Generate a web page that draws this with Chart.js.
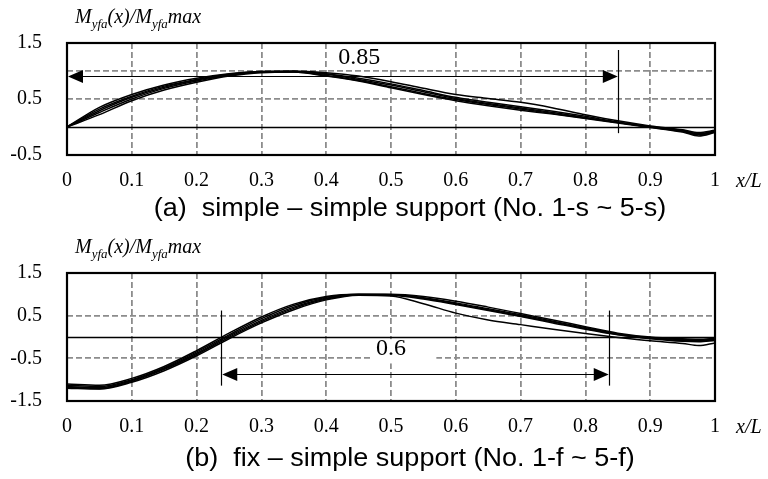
<!DOCTYPE html>
<html>
<head>
<meta charset="utf-8">
<script src="https://cdn.jsdelivr.net/npm/chart.js@4.4.0/dist/chart.umd.min.js"></script>
<style>
  html, body { margin: 0; padding: 0; background: #fff; }
  canvas { display: block; }
</style>
</head>
<body>
<canvas id="simple" width="768" height="230"></canvas>
<canvas id="fix" width="768" height="249"></canvas>
<script>
// x/L positions shared by every curve
const xPos = [0, 0.05, 0.1, 0.15, 0.2, 0.25, 0.3, 0.35, 0.4, 0.45, 0.5, 0.55, 0.6, 0.65, 0.7, 0.75, 0.8, 0.85, 0.9, 0.95, 0.975, 1];

// (a) simple - simple support, No. 1-s ~ 5-s
const simple1 = [0, 0.35, 0.58, 0.75, 0.87, 0.95, 0.99, 1.0, 0.97, 0.91, 0.81, 0.69, 0.58, 0.51, 0.44, 0.34, 0.22, 0.11, 0.02, -0.05, -0.10, -0.06];
const simple2 = [0, 0.32, 0.55, 0.73, 0.85, 0.94, 0.99, 0.99, 0.95, 0.87, 0.77, 0.65, 0.53, 0.44, 0.36, 0.28, 0.19, 0.09, 0.01, -0.06, -0.12, -0.07];
const simple3 = [0, 0.29, 0.53, 0.71, 0.84, 0.93, 0.98, 0.99, 0.94, 0.85, 0.75, 0.63, 0.51, 0.42, 0.34, 0.26, 0.17, 0.08, 0.00, -0.07, -0.13, -0.08];
const simple4 = [0, 0.26, 0.50, 0.69, 0.82, 0.92, 0.98, 0.98, 0.92, 0.83, 0.72, 0.60, 0.49, 0.40, 0.32, 0.24, 0.16, 0.08, 0.00, -0.08, -0.14, -0.09];
const simple5 = [0, 0.22, 0.47, 0.66, 0.80, 0.91, 0.97, 0.98, 0.91, 0.82, 0.70, 0.58, 0.47, 0.38, 0.30, 0.23, 0.15, 0.07, -0.01, -0.09, -0.16, -0.10];

// (b) fix - simple support, No. 1-f ~ 5-f
const fix1 = [-1.10, -1.13, -0.97, -0.69, -0.32, 0.09, 0.47, 0.77, 0.95, 1.0, 1.0, 0.95, 0.84, 0.70, 0.55, 0.40, 0.24, 0.09, 0.00, -0.04, -0.05, -0.03];
const fix2 = [-1.13, -1.16, -1.00, -0.72, -0.35, 0.05, 0.43, 0.74, 0.93, 1.0, 0.99, 0.92, 0.80, 0.66, 0.52, 0.37, 0.22, 0.07, -0.02, -0.06, -0.07, -0.05];
const fix3 = [-1.16, -1.19, -1.02, -0.74, -0.38, 0.02, 0.39, 0.70, 0.91, 0.99, 0.99, 0.91, 0.78, 0.64, 0.50, 0.35, 0.20, 0.06, -0.03, -0.08, -0.09, -0.07];
const fix4 = [-1.18, -1.21, -1.04, -0.76, -0.41, -0.01, 0.36, 0.67, 0.89, 0.99, 0.98, 0.89, 0.76, 0.62, 0.48, 0.33, 0.18, 0.05, -0.04, -0.10, -0.11, -0.08];
const fix5 = [-1.20, -1.22, -1.06, -0.79, -0.44, -0.04, 0.33, 0.64, 0.87, 0.98, 0.96, 0.78, 0.56, 0.40, 0.29, 0.18, 0.08, -0.01, -0.09, -0.15, -0.20, -0.14];

// y tick labels that are printed (grid still every 0.5)
const simpleYLabels = [1.5, 0.5, -0.5];
const fixYLabels = [1.5, 0.5, -0.5, -1.5];

// dimension marks: [x from, x to, arrow y], vertical lines [x, y top, y bottom], span label [text, x, y]
const simpleArrow = [0, 0.85, 0.91];
const simpleMarks = [[0.85, 1.375, -0.11]];
const simpleSpan = ['0.85', 0.451, 1.235];
const fixArrow = [0.238, 0.836, -0.865];
const fixMarks = [[0.238, 0.62, -1.14], [0.836, 0.62, -1.14]];
const fixSpan = ['0.6', 0.50, -0.27];

const serif = '"Liberation Serif", "Times New Roman", serif';
const sans = '"Liberation Sans", Arial, sans-serif';

function arrowHead(ctx, tx, ty, dir) {
  ctx.beginPath();
  ctx.moveTo(tx, ty);
  ctx.lineTo(tx - dir * 15, ty - 6.5);
  ctx.lineTo(tx - dir * 15, ty + 6.5);
  ctx.closePath();
  ctx.fill();
}

function richText(ctx, parts, x, y) {
  parts.forEach(p => {
    ctx.font = p.sub ? 'italic 13px ' + serif : 'italic 20px ' + serif;
    ctx.fillText(p.t, x, p.sub ? y + 5 : y);
    x += ctx.measureText(p.t).width;
  });
}

const decor = {
  id: 'decor',
  beforeDatasetsDraw(chart, args, o) {
    const {ctx, chartArea: a, scales: {x, y}} = chart;
    ctx.save();
    // white box behind the span label
    const b = o.box;
    ctx.fillStyle = '#fff';
    ctx.fillRect(x.getPixelForValue(b[0]), y.getPixelForValue(b[3]),
      x.getPixelForValue(b[1]) - x.getPixelForValue(b[0]), y.getPixelForValue(b[2]) - y.getPixelForValue(b[3]));
    // zero line
    const y0 = Math.round(y.getPixelForValue(0)) + 0.5;
    ctx.strokeStyle = '#000';
    ctx.lineWidth = 1.6;
    ctx.beginPath();
    ctx.moveTo(a.left, y0);
    ctx.lineTo(a.right, y0);
    ctx.stroke();
    ctx.restore();
  },
  afterDatasetsDraw(chart, args, o) {
    const {ctx, chartArea: a, scales: {x, y}} = chart;
    ctx.save();
    ctx.strokeStyle = '#000';
    ctx.fillStyle = '#000';
    ctx.lineWidth = 1.2;
    o.marks.forEach(m => {
      const px = Math.round(x.getPixelForValue(m[0])) + 0.5;
      ctx.beginPath();
      ctx.moveTo(px, y.getPixelForValue(m[1]));
      ctx.lineTo(px, y.getPixelForValue(m[2]));
      ctx.stroke();
    });
    const ay = Math.round(y.getPixelForValue(o.arrow[2])) + 0.5;
    const ax0 = x.getPixelForValue(o.arrow[0]);
    const ax1 = x.getPixelForValue(o.arrow[1]);
    ctx.lineWidth = 1;
    ctx.beginPath();
    ctx.moveTo(ax0 + 10, ay);
    ctx.lineTo(ax1 - 10, ay);
    ctx.stroke();
    arrowHead(ctx, ax0 + 1, ay, -1);
    arrowHead(ctx, ax1, ay, 1);

    // span label
    ctx.font = '24px ' + serif;
    ctx.textAlign = 'center';
    ctx.textBaseline = 'middle';
    ctx.fillText(o.span[0], x.getPixelForValue(o.span[1]), y.getPixelForValue(o.span[2]));

    // plot frame
    ctx.lineWidth = 2.2;
    ctx.strokeRect(a.left, a.top, a.right - a.left, a.bottom - a.top);

    // axis titles
    ctx.textAlign = 'left';
    ctx.textBaseline = 'alphabetic';
    richText(ctx, [{t: 'M'}, {t: 'yfa', sub: true}, {t: '(x)/M'}, {t: 'yfa', sub: true}, {t: 'max'}], 75, 23);
    ctx.font = 'italic 20px ' + serif;
    ctx.fillText('x/L', 736, a.bottom + 32);

    // caption
    ctx.font = '25px ' + sans;
    ctx.textAlign = 'center';
    ctx.save();
    ctx.translate(410, o.captionY);
    ctx.scale(1.08, 1);
    ctx.fillText(o.caption, 0, 0);
    ctx.restore();
    ctx.restore();
  }
};

function series(values) {
  return {
    data: values.map((v, i) => ({x: xPos[i], y: v})),
    borderColor: '#000',
    borderWidth: 1.5,
    pointRadius: 0,
    fill: false,
    cubicInterpolationMode: 'monotone'
  };
}

function makeChart(id, sets, yMin, yLabels, decorOpts, height, plotBottom) {
  return new Chart(document.getElementById(id), {
    type: 'line',
    data: {datasets: sets.map(series)},
    plugins: [decor],
    options: {
      responsive: false,
      animation: false,
      layout: {padding: {left: 0, right: 53, top: 43, bottom: 0}},
      plugins: {legend: {display: false}, tooltip: {enabled: false}, decor: decorOpts},
      scales: {
        x: {
          type: 'linear', min: 0, max: 1,
          afterFit: s => { s.height = height - plotBottom; },
          ticks: {stepSize: 0.1, color: '#000', padding: 14, font: {family: serif, size: 20},
            callback: v => String(Math.round(v * 10) / 10)},
          grid: {color: c => (c.tick.value === 0 || c.tick.value === 1) ? 'rgba(0,0,0,0)' : '#8c8c8c', lineWidth: 1.8, drawTicks: false},
          border: {display: false, dash: [6, 3]}
        },
        y: {
          min: yMin, max: 1.5,
          afterFit: s => { s.width = 67; },
          ticks: {stepSize: 0.5, color: '#000', padding: 25, font: {family: serif, size: 20},
            callback: v => yLabels.includes(v) ? String(v) : ''},
          grid: {color: c => (c.tick.value === 0 || c.tick.value === yMin || c.tick.value === 1.5) ? 'rgba(0,0,0,0)' : '#8c8c8c', lineWidth: 1.8, drawTicks: false},
          border: {display: false, dash: [6, 3]}
        }
      }
    }
  });
}

makeChart('simple', [simple1, simple2, simple3, simple4, simple5], -0.5, simpleYLabels, {
  marks: simpleMarks, arrow: simpleArrow, span: simpleSpan, box: [0.415, 0.51, 1.04, 1.49],
  caption: '(a)  simple \u2013 simple support (No. 1-s ~ 5-s)', captionY: 216
}, 230, 155);

makeChart('fix', [fix1, fix2, fix3, fix4, fix5], -1.5, fixYLabels, {
  marks: fixMarks, arrow: fixArrow, span: fixSpan, box: [0.47, 0.57, -0.62, -0.05],
  caption: '(b)  fix \u2013 simple support (No. 1-f ~ 5-f)', captionY: 236
}, 249, 171);
</script>
</body>
</html>
